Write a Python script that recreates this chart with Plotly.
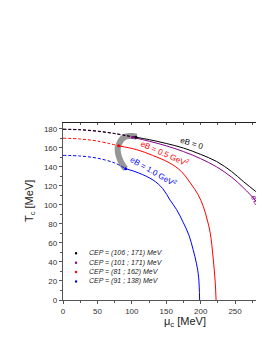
import plotly.graph_objects as go

# ---- data (MeV) ----
mu_b0_dash = [0, 25, 50, 75, 106]
T_b0_dash = [179.5, 179, 177.5, 175, 171]
mu_b0 = [106, 126, 150, 175, 200, 223, 245, 262, 280, 292]
T_b0 = [171, 168.4, 164.5, 159.7, 153, 145.6, 135, 124.5, 114, 107]

mu_p_dash = [0, 25, 50, 75, 101]
T_p_dash = [179.3, 178.8, 177.2, 174.8, 171]
mu_p = [101, 126, 150, 175, 200, 223, 245, 262, 280, 292]
T_p = [171, 166.7, 162, 156, 148.5, 140, 129, 118, 104, 90]

mu_r_dash = [0, 25, 50, 81]
T_r_dash = [170, 169.2, 167, 162]
mu_r = [81, 107, 130, 155, 172, 185, 196, 204, 210, 214, 218, 221, 222.4]
T_r = [162, 158, 152, 144, 135, 123, 111, 98, 83, 70, 45, 20, 0]

mu_bl_dash = [0, 25, 50, 75, 91]
T_bl_dash = [152, 151.3, 149, 144, 138]
mu_bl = [91, 110, 131, 145, 155.5, 165, 175, 183, 189, 194, 197, 198.5]
T_bl = [138, 133.5, 126, 117, 105, 95, 81, 68, 53, 38, 24, 0]

mu_cep_path = [107, 100, 92, 86, 82, 79.5, 80, 82, 85, 88, 91]
T_cep_path = [171.5, 172.3, 172, 169.5, 165, 160, 154, 149, 144, 140.5, 138]

cep_mu = [106, 101, 81, 91]
cep_T = [171, 171, 162, 138]
cep_labels = ["CEP = (106 ; 171) MeV", "CEP = (101 ; 171) MeV",
              "CEP = (81 ; 162) MeV", "CEP = (91 ; 138) MeV"]
colors = ["black", "#8b008b", "red", "blue"]

FONT = "Liberation Sans, Arial, sans-serif"

fig = go.Figure()

fig.add_trace(go.Scatter(x=mu_cep_path, y=T_cep_path, mode="lines", line=dict(color="rgb(150,150,150)", width=6, shape="spline"), showlegend=False))

dash_sets = [(mu_b0_dash, T_b0_dash), (mu_p_dash, T_p_dash), (mu_r_dash, T_r_dash), (mu_bl_dash, T_bl_dash)]
solid_sets = [(mu_b0, T_b0), (mu_p, T_p), (mu_r, T_r), (mu_bl, T_bl)]
order = [3, 2, 1, 0]
for i in order:
    xs, ys = dash_sets[i]
    fig.add_trace(go.Scatter(x=xs, y=ys, mode="lines", line=dict(color=colors[i], width=1, dash="3px,2px", shape="spline"), showlegend=False))
    xs, ys = solid_sets[i]
    fig.add_trace(go.Scatter(x=xs, y=ys, mode="lines", line=dict(color=colors[i], width=1, shape="spline"), showlegend=False))

for i in range(4):
    fig.add_trace(go.Scatter(x=[cep_mu[i]], y=[cep_T[i]], mode="markers", marker=dict(color=colors[i], size=3), showlegend=False))

# manual legend
leg_y = [0.264, 0.211, 0.158, 0.105]
for i in range(4):
    fig.add_shape(type="circle", xref="paper", yref="paper",
                  x0=0.065 - 0.006, x1=0.065 + 0.006, y0=leg_y[i] - 0.007, y1=leg_y[i] + 0.007,
                  fillcolor=colors[i], line=dict(width=0))
    fig.add_annotation(x=0.12, y=leg_y[i], xref="paper", yref="paper", xanchor="left", yanchor="middle",
                       text="<i>" + cep_labels[i] + "</i>", showarrow=False,
                       font=dict(family=FONT, size=7, color="#222"))

# curve labels
labels = [
    ("eB = 0", 0.64, 0.885, 17, "black"),
    ("eB = 0.5 GeV<sup>2</sup>", 0.505, 0.83, 24, "red"),
    ("eB = 1.0 GeV<sup>2</sup>", 0.45, 0.73, 30, "blue"),
    ("eB = 0.3 GeV<sup>2</sup>", 1.008, 0.462, 62, "#8b008b"),
]
for t, x, y, a, c in labels:
    fig.add_annotation(x=x, y=y, xref="paper", yref="paper", text=t, textangle=a, showarrow=False,
                       xanchor="center", yanchor="middle",
                       font=dict(family=FONT, size=8, color=c))

fig.add_annotation(x=-0.164, y=0.559, xref="paper", yref="paper", text="T<sub>c</sub> [MeV]", textangle=-90,
                   showarrow=False, xanchor="center", yanchor="middle",
                   font=dict(family=FONT, size=11, color="#222"))
fig.add_annotation(x=0.607, y=-0.127, xref="paper", yref="paper", text="μ<sub>c</sub> [MeV]",
                   showarrow=False, xanchor="center", yanchor="middle",
                   font=dict(family=FONT, size=11, color="#222"))

fig.update_layout(
    width=256, height=325,
    margin=dict(l=55, r=0, t=115, b=33),
    paper_bgcolor="white", plot_bgcolor="white",
    showlegend=False,
    xaxis=dict(range=[0, 292], tickvals=[0, 50, 100, 150, 200, 250], ticks="outside", ticklen=3,
               tickcolor="#555", showline=True, linecolor="#555", linewidth=1.3, showgrid=False, zeroline=False,
               tickfont=dict(family=FONT, size=8, color="#333"),
               minor=dict(dtick=25, tick0=0, ticks="outside", ticklen=2, tickcolor="#555")),
    xaxis2=dict(range=[0, 292], overlaying="x", side="top", showline=True, linecolor="#222", linewidth=1,
                ticks="inside", ticklen=2, dtick=25, tick0=0, tickcolor="#555", showticklabels=False,
                showgrid=False, zeroline=False),
    yaxis=dict(range=[0, 186], tickvals=[0, 20, 40, 60, 80, 100, 120, 140, 160, 180], ticks="outside", ticklen=3,
               tickcolor="#555", showline=True, linecolor="#555", linewidth=1.3, showgrid=False, zeroline=False,
               tickfont=dict(family=FONT, size=8, color="#333"),
               minor=dict(dtick=10, tick0=0, ticks="outside", ticklen=2, tickcolor="#555")),
)
fig.add_trace(go.Scatter(x=[0], y=[0], xaxis="x2", mode="markers", marker=dict(opacity=0), showlegend=False, hoverinfo="skip"))

fig.write_html("out.html")
